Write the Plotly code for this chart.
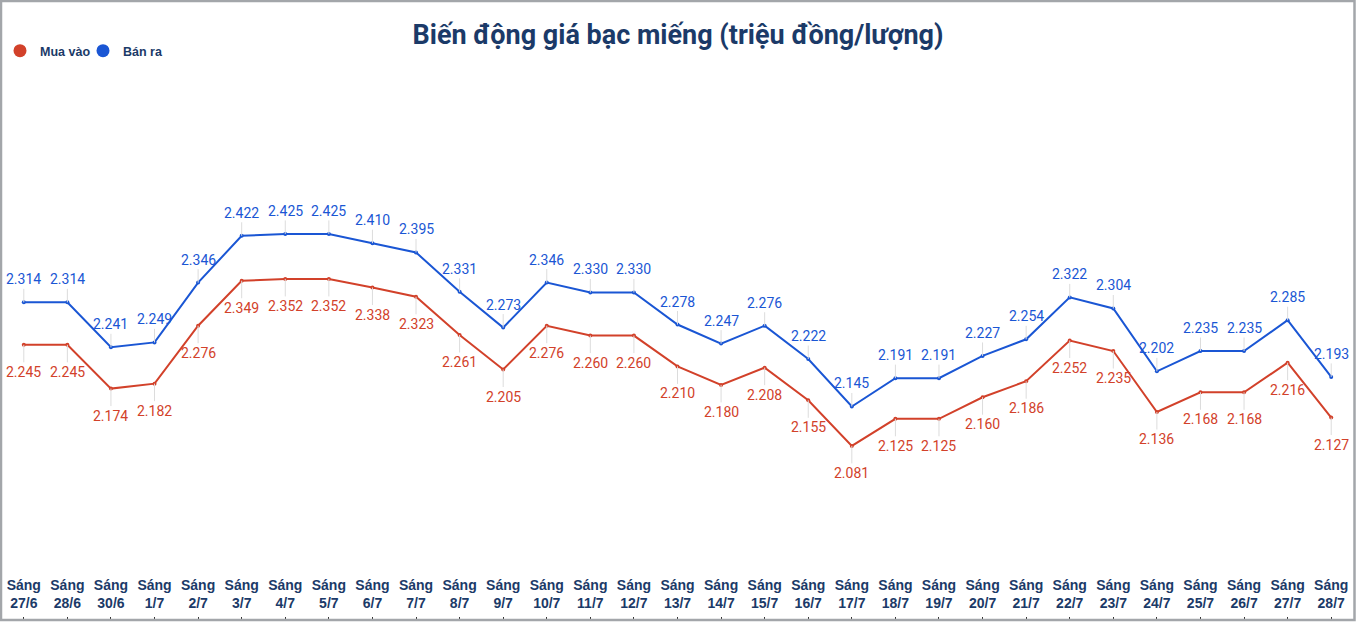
import plotly.graph_objects as go

dates = ["27/6", "28/6", "30/6", "1/7", "2/7", "3/7", "4/7", "5/7", "6/7", "7/7",
         "8/7", "9/7", "10/7", "11/7", "12/7", "13/7", "14/7", "15/7", "16/7", "17/7",
         "18/7", "19/7", "20/7", "21/7", "22/7", "23/7", "24/7", "25/7", "26/7", "27/7", "28/7"]
categories = ["Sáng<br>" + d for d in dates]

ban_ra = [2.314, 2.314, 2.241, 2.249, 2.346, 2.422, 2.425, 2.425, 2.410, 2.395,
          2.331, 2.273, 2.346, 2.330, 2.330, 2.278, 2.247, 2.276, 2.222, 2.145,
          2.191, 2.191, 2.227, 2.254, 2.322, 2.304, 2.202, 2.235, 2.235, 2.285, 2.193]
mua_vao = [2.245, 2.245, 2.174, 2.182, 2.276, 2.349, 2.352, 2.352, 2.338, 2.323,
           2.261, 2.205, 2.276, 2.260, 2.260, 2.210, 2.180, 2.208, 2.155, 2.081,
           2.125, 2.125, 2.160, 2.186, 2.252, 2.235, 2.136, 2.168, 2.168, 2.216, 2.127]

RED = "#d2412a"
BLUE = "#1a56d4"
NAVY = "#1b3a68"
W, H = 1356, 622
ML, MR, MT, MB = 2, 3, 70, 6

fig = go.Figure()
for name, vals, col in [("Mua vào", mua_vao, RED), ("Bán ra", ban_ra, BLUE)]:
    fig.add_trace(go.Scatter(x=categories, y=vals, mode="lines+markers", name=name,
                             line=dict(color=col, width=2), marker=dict(size=4, color=col),
                             showlegend=False, hoverinfo="skip"))
for name, col in [("Mua vào", RED), ("Bán ra", BLUE)]:
    fig.add_trace(go.Scatter(x=[None], y=[None], mode="markers", name=name,
                             marker=dict(size=13, color=col), showlegend=True))

ann = []
for vals, col, ay in [(ban_ra, BLUE, -23), (mua_vao, RED, 27)]:
    for c, v in zip(categories, vals):
        ann.append(dict(x=c, y=v, xref="x", yref="y", text=f"{v:.3f}", showarrow=True,
                        arrowhead=0, arrowwidth=1, arrowcolor="#dcdcdc", ax=0, ay=ay,
                        standoff=0, font=dict(family="Roboto", size=14, color=col)))
fig.update_layout(annotations=ann)

pw = W - ML - MR
ph = H - MT - MB
fig.add_shape(type="rect", xref="paper", yref="paper",
              x0=-(ML - 1) / pw, x1=1 + (MR - 1.5) / pw,
              y0=-(MB - 2) / ph, y1=1 + (MT - 1) / ph,
              line=dict(color="#a3a6aa", width=2.5), fillcolor="rgba(0,0,0,0)", layer="above")

fig.update_layout(
    width=W, height=H,
    margin=dict(l=ML, r=MR, t=MT, b=MB, autoexpand=False),
    paper_bgcolor="white", plot_bgcolor="white",
    title=dict(text="<b>Biến động giá bạc miếng (triệu đồng/lượng)</b>", x=0.5, xanchor="center",
               y=1 - 35 / H, yanchor="middle",
               font=dict(family="Roboto", size=27, color=NAVY)),
    legend=dict(orientation="h", xref="container", yref="container",
                x=-9 / W, xanchor="left", y=1 - 51 / H, yanchor="middle",
                font=dict(family="Liberation Sans", size=12.5, color=NAVY, weight="bold"),
                itemwidth=30, entrywidth=38, entrywidthmode="pixels",
                tracegroupgap=0, bgcolor="rgba(0,0,0,0)"),
    xaxis=dict(type="category", range=[-0.5, len(categories) - 0.5], showgrid=False,
               showline=False, zeroline=False, ticks="outside", ticklen=3, tickcolor="#333",
               ticklabelposition="inside", ticklabelstandoff=2,
               tickfont=dict(family="Liberation Sans", size=14, color=NAVY, weight="bold")),
    yaxis=dict(range=[1.805, 2.691], visible=False, showgrid=False, zeroline=False),
)

fig.write_html("out.html")
